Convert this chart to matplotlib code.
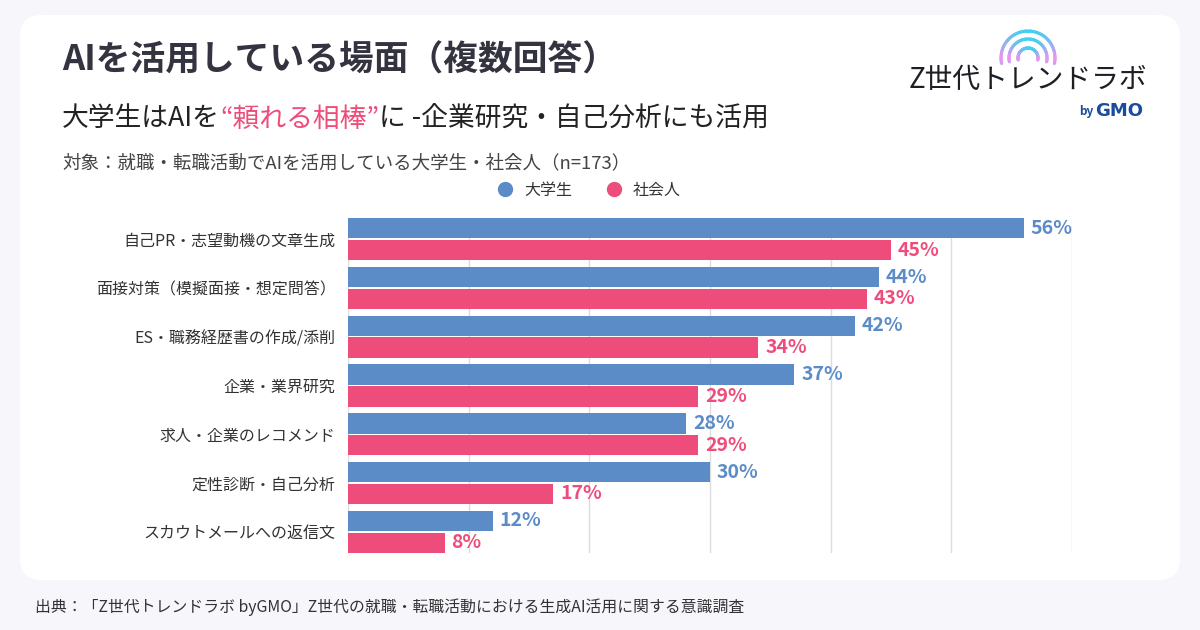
import numpy as np
import matplotlib
matplotlib.use("Agg")
import matplotlib.pyplot as plt
from matplotlib.patches import FancyBboxPatch
from matplotlib.lines import Line2D
from matplotlib.collections import LineCollection

plt.rcParams['font.family'] = ['Noto Sans CJK JP', 'DejaVu Sans']

# data
categories = ['自己PR・志望動機の文章生成', '面接対策（模擬面接・想定問答）', 'ES・職務経歴書の作成/添削',
              '企業・業界研究', '求人・企業のレコメンド', '定性診断・自己分析', 'スカウトメールへの返信文']
students = [56, 44, 42, 37, 28, 30, 12]
workers = [45, 43, 34, 29, 29, 17, 8]
series_names = ['大学生', '社会人']

blue = '#5b8cc8'
pink = '#ee4d7b'
dark = '#33343f'

W, H = 1200, 630
fig = plt.figure(figsize=(W / 100, H / 100), dpi=100)
fig.patch.set_facecolor('#f7f7fb')

# background layer in pixel coordinates
bg = fig.add_axes([0, 0, 1, 1])
bg.set_xlim(0, W)
bg.set_ylim(H, 0)
bg.axis('off')
card = FancyBboxPatch((20, 15), 1160, 565, boxstyle='round,pad=0,rounding_size=22',
                      fc='white', ec='none')
bg.add_patch(card)

# titles
bg.text(62, 60, 'AIを活用している場面（複数回答）', fontsize=25, fontweight='bold',
        color=dark, va='center')
t = bg.text(62, 119, '大学生はAIを', fontsize=19.3, color='#222222', va='center')
t = bg.annotate('“頼れる相棒”', xycoords=t, xy=(1, 0.5), va='center', fontsize=19.3, color=pink)
bg.annotate('に -企業研究・自己分析にも活用', xycoords=t, xy=(1, 0.5), va='center',
            fontsize=19.3, color='#222222')
bg.text(62, 163, '対象：就職・転職活動でAIを活用している大学生・社会人（n=173）',
        fontsize=13.3, color='#444444', va='center')
bg.text(35, 607, '出典：「Z世代トレンドラボ byGMO」Z世代の就職・転職活動における生成AI活用に関する意識調査',
        fontsize=11.4, color='#333333', va='center')

# logo
cx, cy = 1028, 58
for r in [10, 19, 27]:
    ang = np.linspace(np.radians(-12), np.radians(192), 80)
    px = cx + r * np.cos(ang)
    py = cy - r * np.sin(ang)
    pts = np.column_stack([px, py]).reshape(-1, 1, 2)
    segs = np.concatenate([pts[:-1], pts[1:]], axis=1)
    f = np.abs(np.sin(ang[:-1]))
    cols = [(0.25 + 0.7 * (1 - v), 0.82 - 0.25 * (1 - v), 0.95) for v in f]
    bg.add_collection(LineCollection(segs, colors=cols, linewidths=2.2, capstyle='round'))
bg.text(1028, 80, 'Z世代トレンドラボ', fontsize=20, color='#1e1e24', ha='center', va='center')
tb = bg.text(1079, 111, 'by', fontsize=8.5, color='#1a4c9c', va='center', fontweight='bold')
bg.annotate('GMO', xycoords=tb, xy=(1, 0.5), xytext=(1, 0), textcoords='offset points',
            va='center', fontsize=13, color='#1a4c9c', fontweight='bold', family='DejaVu Sans')

# chart
ax = fig.add_axes([348 / W, 1 - 553 / H, 724 / W, 335 / H])
y = np.arange(len(categories))
bh = 0.42
ax.barh(y - 0.225, students, height=bh, color=blue, zorder=2)
ax.barh(y + 0.225, workers, height=bh, color=pink, zorder=2)
for i in range(len(categories)):
    ax.annotate(f'{students[i]}%', (students[i], y[i] - 0.225), xytext=(5, 0),
                textcoords='offset points', va='center', color=blue, fontsize=14,
                fontweight='bold')
    ax.annotate(f'{workers[i]}%', (workers[i], y[i] + 0.225), xytext=(5, 0),
                textcoords='offset points', va='center', color=pink, fontsize=14,
                fontweight='bold')
ax.set_xlim(0, 60)
ax.set_ylim(len(categories) - 0.565, -0.435)
ax.set_xticks(np.arange(0, 61, 10))
ax.xaxis.grid(True, color='#dcdcdf', linewidth=1, zorder=0)
ax.set_xticklabels([])
ax.tick_params(axis='x', length=0)
ax.set_yticks(y, categories)
ax.tick_params(axis='y', length=0, pad=9, labelsize=11.5, labelcolor='#333333')
for s in ax.spines.values():
    s.set_visible(False)
ax.patch.set_alpha(0)

handles = [Line2D([], [], marker='o', ls='', color=blue, markersize=10, label=series_names[0]),
           Line2D([], [], marker='o', ls='', color=pink, markersize=10, label=series_names[1])]
fig.legend(handles=handles, loc='center', bbox_to_anchor=(585 / W, 1 - 190 / H), ncol=2,
           frameon=False, fontsize=11.5, handletextpad=0.2, columnspacing=1.6,
           labelcolor='#333333')

fig.savefig('out.png', dpi=100, facecolor=fig.get_facecolor())
